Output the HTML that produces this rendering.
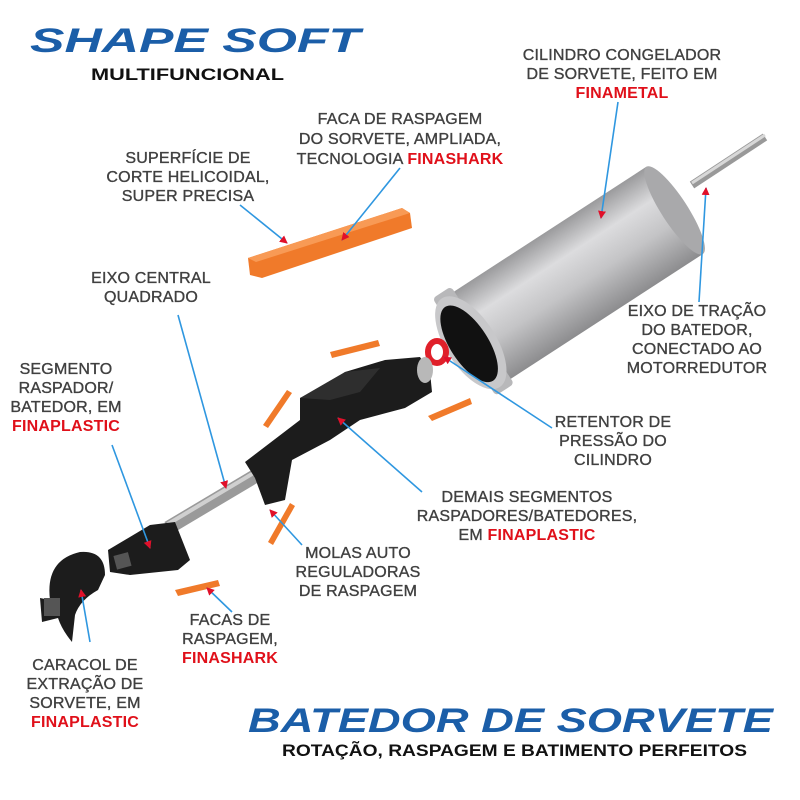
<!DOCTYPE html>
<html><head><meta charset="utf-8"><style>
html,body{margin:0;padding:0;background:#fff}
svg{display:block}
text{font-family:"Liberation Sans",sans-serif}
.l{font-size:16px;fill:#404040;stroke:#404040;stroke-width:0.35;text-anchor:middle;letter-spacing:0.2px}
.r{fill:#e0101a;stroke:#e0101a;font-weight:bold;stroke-width:0}
.ld{stroke:#2f97e0;stroke-width:1.6;fill:none;marker-end:url(#ah)}
</style></head><body>
<svg width="800" height="800" viewBox="0 0 800 800" xmlns="http://www.w3.org/2000/svg">
<defs>
<marker id="ah" markerWidth="8" markerHeight="8" refX="7" refY="4" orient="auto" markerUnits="userSpaceOnUse"><path d="M0,0 L8,4 L0,8 Z" fill="#e0102a"/></marker>
<linearGradient id="cyl" x1="0" y1="0" x2="0" y2="1">
<stop offset="0" stop-color="#9a9a9c"/><stop offset="0.3" stop-color="#dcdcde"/><stop offset="0.6" stop-color="#c4c4c6"/><stop offset="1" stop-color="#8c8c8e"/></linearGradient>
<linearGradient id="sh" x1="0" y1="0" x2="0" y2="1"><stop offset="0" stop-color="#777"/><stop offset="0.5" stop-color="#ddd"/><stop offset="1" stop-color="#666"/></linearGradient>
</defs>
<rect width="800" height="800" fill="#fff"/>
<text x="30" y="52" font-size="34" font-weight="bold" font-style="italic" fill="#1b5ea8" textLength="330" lengthAdjust="spacingAndGlyphs">SHAPE SOFT</text>
<text x="91" y="80" font-size="17" font-weight="bold" fill="#111" textLength="193" lengthAdjust="spacingAndGlyphs">MULTIFUNCIONAL</text>
<text x="248" y="732" font-size="34" font-weight="bold" font-style="italic" fill="#1b5ea8" textLength="525" lengthAdjust="spacingAndGlyphs">BATEDOR DE SORVETE</text>
<text x="282" y="756" font-size="17" font-weight="bold" fill="#111" textLength="465" lengthAdjust="spacingAndGlyphs">ROTAÇÃO, RASPAGEM E BATIMENTO PERFEITOS</text>

<!-- cylinder -->
<g transform="rotate(-33 475 340)">
<rect x="475" y="288" width="238" height="104" fill="url(#cyl)"/>
<ellipse cx="713" cy="340" rx="13" ry="52" fill="#a9a9ab"/>
<rect x="462" y="282" width="22" height="116" fill="#b8b8ba" rx="4"/>
<ellipse cx="470" cy="340" rx="25" ry="53" fill="#c8c8ca"/>
<ellipse cx="468" cy="340" rx="19" ry="44" fill="#111"/>
</g>
<line x1="692" y1="185" x2="765" y2="137" stroke="#999" stroke-width="8"/>
<line x1="692" y1="183" x2="765" y2="135" stroke="#d8d8d8" stroke-width="3"/>
<ellipse cx="437" cy="352" rx="9" ry="11" fill="none" stroke="#e0202a" stroke-width="6"/>

<!-- top orange blade -->
<polygon points="248,258 402,208 410,213 412,228 262,278 250,275" fill="#f07a2a"/>
<polygon points="248,258 402,208 410,213 256,262" fill="#f89a55"/>

<!-- small blades -->
<polygon points="330,352 378,340 380,346 332,358" fill="#f07a2a"/>
<polygon points="263,425 287,390 292,393 268,428" fill="#f07a2a"/>
<polygon points="428,416 470,398 472,404 432,421" fill="#f07a2a"/>
<polygon points="268,542 290,503 295,506 273,545" fill="#f07a2a"/>
<polygon points="175,590 218,580 220,586 178,596" fill="#f07a2a"/>

<!-- shaft -->
<line x1="168" y1="528" x2="262" y2="472" stroke="#9a9a9a" stroke-width="14"/>
<line x1="168" y1="524" x2="262" y2="468" stroke="#d0d0d0" stroke-width="4"/>

<!-- black main body -->
<polygon points="245,462 300,420 300,398 330,385 345,372 385,360 420,357 430,372 432,392 405,408 360,420 330,440 292,460 285,500 265,505 255,478" fill="#1c1c1c"/>
<polygon points="300,398 345,372 380,368 360,392 330,400" fill="#2e2e2e"/>
<ellipse cx="425" cy="370" rx="8" ry="13" fill="#b8b8b8"/>
<!-- segment -->
<polygon points="108,550 150,525 175,522 190,560 178,570 130,575 110,572" fill="#1c1c1c"/>
<rect x="115" y="554" width="15" height="14" fill="#555" transform="rotate(-15 122 561)"/>
<!-- snail -->
<path d="M50,600 Q45,560 80,552 Q105,550 105,575 L98,590 Q80,600 75,615 L72,642 Q62,630 58,618 L42,622 L40,598 Z" fill="#1c1c1c"/>
<rect x="44" y="598" width="16" height="18" fill="#555"/>

<!-- leaders -->
<path class="ld" d="M618,102 L601,218"/>
<path class="ld" d="M400,168 L342,240"/>
<path class="ld" d="M240,205 L287,243"/>
<path class="ld" d="M178,315 L226,488"/>
<path class="ld" d="M112,445 L150,548"/>
<path class="ld" d="M699,302 L706,188"/>
<path class="ld" d="M552,428 L444,357"/>
<path class="ld" d="M422,492 L338,418"/>
<path class="ld" d="M302,545 L270,510"/>
<path class="ld" d="M232,612 L207,588"/>
<path class="ld" d="M90,642 L81,590"/>

<!-- labels -->
<text class="l" x="622" y="60">CILINDRO CONGELADOR<tspan x="622" dy="19">DE SORVETE, FEITO EM</tspan><tspan x="622" dy="19" class="r">FINAMETAL</tspan></text>
<text class="l" x="400" y="124">FACA DE RASPAGEM<tspan x="400" dy="20">DO SORVETE, AMPLIADA,</tspan><tspan x="400" dy="20">TECNOLOGIA <tspan class="r">FINASHARK</tspan></tspan></text>
<text class="l" x="188" y="163">SUPERFÍCIE DE<tspan x="188" dy="19">CORTE HELICOIDAL,</tspan><tspan x="188" dy="19">SUPER PRECISA</tspan></text>
<text class="l" x="151" y="283">EIXO CENTRAL<tspan x="151" dy="19">QUADRADO</tspan></text>
<text class="l" x="66" y="374">SEGMENTO<tspan x="66" dy="19">RASPADOR/</tspan><tspan x="66" dy="19">BATEDOR, EM</tspan><tspan x="66" dy="19" class="r">FINAPLASTIC</tspan></text>
<text class="l" x="697" y="316">EIXO DE TRAÇÃO<tspan x="697" dy="19">DO BATEDOR,</tspan><tspan x="697" dy="19">CONECTADO AO</tspan><tspan x="697" dy="19">MOTORREDUTOR</tspan></text>
<text class="l" x="613" y="427">RETENTOR DE<tspan x="613" dy="19">PRESSÃO DO</tspan><tspan x="613" dy="19">CILINDRO</tspan></text>
<text class="l" x="527" y="502">DEMAIS SEGMENTOS<tspan x="527" dy="19">RASPADORES/BATEDORES,</tspan><tspan x="527" dy="19">EM <tspan class="r">FINAPLASTIC</tspan></tspan></text>
<text class="l" x="358" y="558">MOLAS AUTO<tspan x="358" dy="19">REGULADORAS</tspan><tspan x="358" dy="19">DE RASPAGEM</tspan></text>
<text class="l" x="230" y="625">FACAS DE<tspan x="230" dy="19">RASPAGEM,</tspan><tspan x="230" dy="19" class="r">FINASHARK</tspan></text>
<text class="l" x="85" y="670">CARACOL DE<tspan x="85" dy="19">EXTRAÇÃO DE</tspan><tspan x="85" dy="19">SORVETE, EM</tspan><tspan x="85" dy="19" class="r">FINAPLASTIC</tspan></text>
</svg>
</body></html>
